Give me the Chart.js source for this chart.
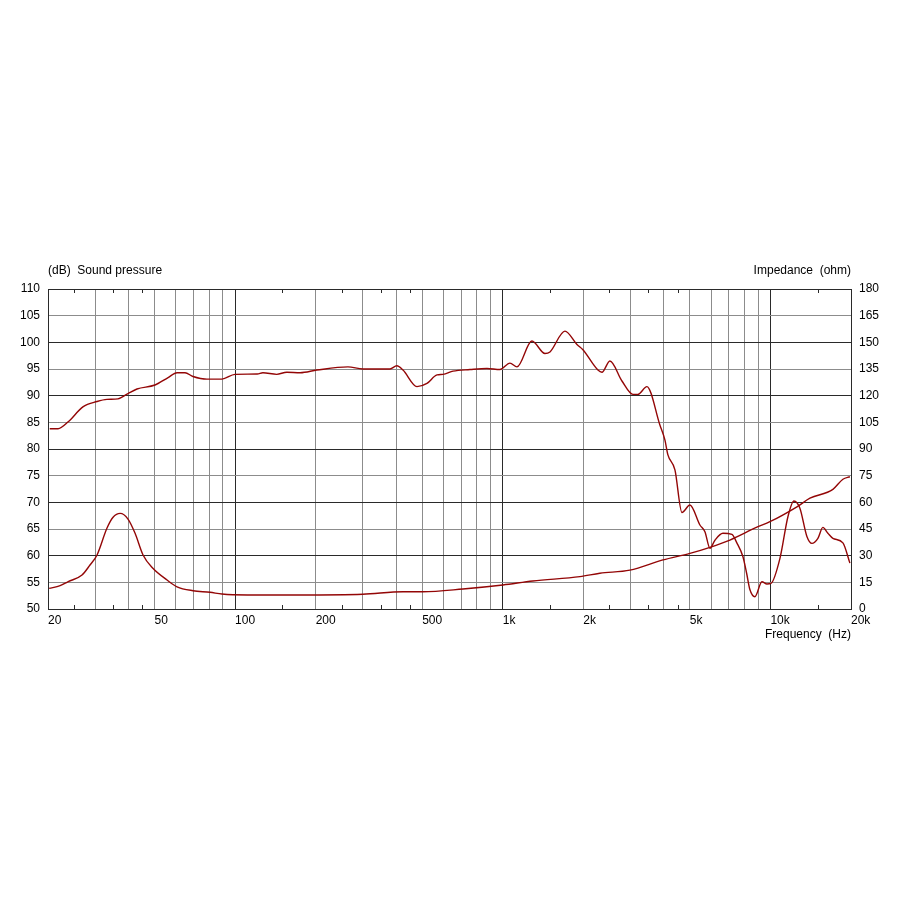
<!DOCTYPE html>
<html>
<head>
<meta charset="utf-8">
<script src="https://cdn.jsdelivr.net/npm/chart.js@4.4.1/dist/chart.umd.min.js"></script>
<style>
  html, body { margin: 0; padding: 0; background: #fff; }
  #wrap { width: 900px; height: 900px; }
</style>
</head>
<body>
<div id="wrap"><canvas id="fr"></canvas></div>
<script>
// Sound pressure (dB)
const splFreq = [20.3, 21.8, 23.8, 27.0, 30.5, 33.2, 36.5, 39.8, 43.0, 50.2, 56.2, 60.7, 65.0, 69.6, 78.5, 89.3,
  99.9, 121, 127, 143, 156, 175, 202, 264, 300, 379, 402, 424, 478, 521, 568, 598, 652, 754, 873, 976,
  1064, 1130, 1285, 1438, 1501, 1707, 1893, 1993, 2268, 2347, 2514, 2788, 3064, 3200, 3456, 3864, 4034,
  4140, 4398, 4672, 5004, 5452, 5692, 5944, 6204, 6646, 7182, 7476, 7896, 8148, 8386, 8750, 9294, 9704,
  10044, 10854, 11624, 12238, 12886, 13686, 14290, 15046, 15704, 16396, 17116, 18656, 19812];
const splDb = [83.8, 83.8, 85.1, 87.9, 88.9, 89.3, 89.4, 90.4, 91.25, 92.0, 93.4, 94.3, 94.3, 93.6, 93.1, 93.1,
  94.0, 94.05, 94.3, 94.0, 94.4, 94.3, 94.8, 95.4, 95.0, 95.0, 95.6, 94.8, 91.7, 92.3, 93.9, 94.0, 94.6, 94.9, 95.1, 94.9,
  96.1, 95.4, 100.25, 97.9, 98.2, 102.1, 99.6, 98.6, 94.8, 94.4, 96.5, 92.75, 90.25, 90.25, 91.7, 84.5, 81.7,
  78.9, 76.1, 68.1, 69.5, 65.75, 64.5, 61.4, 62.9, 64.2, 64.0, 62.5, 59.8, 56.7, 53.6, 52.3, 55.1, 54.7,
  54.8, 59.5, 67.3, 70.25, 68.9, 63.6, 62.3, 63.25, 65.3, 64.2, 63.25, 62.4, 58.6];

// Impedance (ohm)
const zFreq = [20.2, 22.2, 23.8, 26.8, 28.7, 30.5, 33.2, 35.0, 37.2, 39.8, 42.3, 45.3, 49.3, 55.7, 60.7, 69.6,
  80.6, 89.3, 111, 175, 300, 424, 503, 710, 1001, 1296, 1942, 2306, 2986, 3966, 5004, 5944, 7058, 8902,
  9956, 12562, 14048, 17116, 18656, 19812];
const zOhm = [11.6, 13.1, 15.4, 19.1, 24.75, 30.4, 45.4, 51.6, 53.8, 50.6, 42.6, 30.4, 22.9, 16.3, 12.5, 10.3,
  9.4, 8.4, 7.9, 7.9, 8.3, 9.7, 9.7, 11.25, 13.5, 15.75, 18.2, 20.1, 21.9, 27.6, 31.3, 34.7, 38.8, 46.0,
  49.1, 57.5, 62.3, 67.3, 73.0, 74.4];

// frequency axis: grid lines, labels, small edge ticks
const gridFreqs = [20, 30, 40, 50, 60, 70, 80, 90, 100, 200, 300, 400, 500, 600, 700, 800, 900,
  1000, 2000, 3000, 4000, 5000, 6000, 7000, 8000, 9000, 10000, 20000];
const freqLabels = { 20: '20', 50: '50', 100: '100', 200: '200', 500: '500', 1000: '1k',
  2000: '2k', 5000: '5k', 10000: '10k', 20000: '20k' };
const majorFreqs = [20, 100, 1000, 10000, 20000];
const minorFreqs = [25, 35, 45, 150, 250, 350, 450, 1500, 2500, 3500, 4500, 15000];

const CURVE = '#930606';
const DARK = '#2a2a2a';
const LIGHT = '#8c8c8c';
const TEXT = '#000';
const FONT = { family: '"Liberation Sans", Arial, sans-serif', size: 12 };

const toPoints = (xs, ys) => xs.map((x, i) => ({ x, y: ys[i] }));

// headings and little edge ticks
const extras = {
  id: 'extras',
  afterDatasetsDraw(chart) {
    const { ctx, chartArea: a, scales } = chart;
    ctx.save();
    ctx.strokeStyle = DARK;
    ctx.lineWidth = 1;
    minorFreqs.forEach(f => {
      const px = Math.round(scales.x.getPixelForValue(f)) + 0.5;
      ctx.beginPath();
      ctx.moveTo(px, a.top); ctx.lineTo(px, a.top + 4);
      ctx.moveTo(px, a.bottom); ctx.lineTo(px, a.bottom - 4);
      ctx.stroke();
    });
    ctx.fillStyle = TEXT;
    ctx.font = '12px ' + FONT.family;
    ctx.textBaseline = 'middle';
    ctx.textAlign = 'left';
    ctx.fillText('(dB)  Sound pressure', a.left, a.top - 18);
    ctx.textAlign = 'right';
    ctx.fillText('Impedance  (ohm)', a.right, a.top - 18);
    ctx.restore();
  }
};

new Chart(document.getElementById('fr'), {
  type: 'scatter',
  data: {
    datasets: [
      {
        label: 'Sound pressure',
        data: toPoints(splFreq, splDb),
        yAxisID: 'y',
        showLine: true,
        borderColor: CURVE,
        borderWidth: 1.4,
        pointRadius: 0,
        cubicInterpolationMode: 'monotone'
      },
      {
        label: 'Impedance',
        data: toPoints(zFreq, zOhm),
        yAxisID: 'y2',
        showLine: true,
        borderColor: CURVE,
        borderWidth: 1.4,
        pointRadius: 0,
        cubicInterpolationMode: 'monotone'
      }
    ]
  },
  options: {
    responsive: true,
    maintainAspectRatio: false,
    animation: false,
    layout: { padding: { top: 289, bottom: 251, left: 0, right: 0 } },
    plugins: {
      legend: { display: false },
      tooltip: { enabled: false }
    },
    scales: {
      x: {
        type: 'logarithmic',
        min: 20,
        max: 20000,
        afterBuildTicks(scale) {
          scale.ticks = gridFreqs.map(v => ({ value: v }));
        },
        afterFit(scale) { scale.height = 40; },
        ticks: {
          autoSkip: false,
          maxRotation: 0,
          align: 'start',
          padding: 4,
          color: TEXT,
          font: FONT,
          callback: v => freqLabels[v] || ''
        },
        grid: {
          drawTicks: false,
          lineWidth: 1,
          color: c => majorFreqs.includes(c.tick && c.tick.value) ? DARK : LIGHT
        },
        border: { color: DARK, width: 1 },
        title: {
          display: true,
          text: 'Frequency  (Hz)',
          align: 'end',
          color: TEXT,
          font: FONT,
          padding: { top: 0, bottom: 7 }
        }
      },
      y: {
        position: 'left',
        min: 50,
        max: 110,
        afterFit(scale) { scale.width = 48; },
        ticks: { stepSize: 5, padding: 8, color: TEXT, font: FONT },
        grid: {
          drawTicks: false,
          lineWidth: 1,
          color: c => (c.tick && c.tick.value % 10 === 0) ? DARK : LIGHT
        },
        border: { color: DARK, width: 1 }
      },
      y2: {
        position: 'right',
        min: 0,
        max: 180,
        afterFit(scale) { scale.width = 49; },
        ticks: { stepSize: 15, padding: 8, color: TEXT, font: FONT },
        grid: { display: false, drawTicks: false },
        border: { color: DARK, width: 1 }
      }
    }
  },
  plugins: [extras]
});
</script>
</body>
</html>
